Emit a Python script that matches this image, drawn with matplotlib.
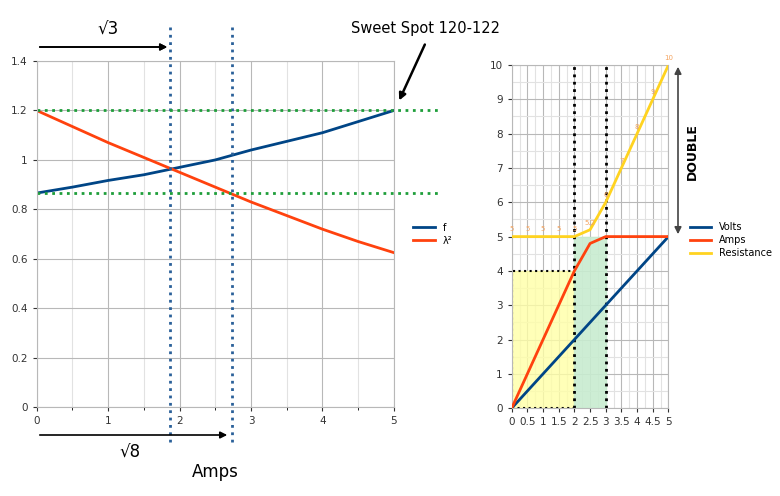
import numpy as np
import matplotlib.pyplot as plt

# left chart data
amps = [0, 0.5, 1, 1.5, 2, 2.5, 3, 3.5, 4, 4.5, 5]
f_vals = [0.866, 0.89, 0.917, 0.94, 0.97, 1.0, 1.04, 1.075, 1.11, 1.155, 1.2]
lam2_vals = [1.2, 1.135, 1.07, 1.01, 0.95, 0.89, 0.83, 0.775, 0.72, 0.67, 0.625]
v_marks = [1.87, 2.74]
h_marks = [1.2, 0.866]

# right chart data
x_r = [0, 0.5, 1, 1.5, 2, 2.5, 3, 3.5, 4, 4.5, 5]
volts = [0, 0.5, 1, 1.5, 2, 2.5, 3, 3.5, 4, 4.5, 5]
amps_r = [0, 1, 2, 3, 4, 4.8, 5, 5, 5, 5, 5]
resistance = [5, 5, 5, 5, 5, 5.2, 6, 7, 8, 9, 10]
res_labels = ['5', '5', '5', '5', '5', '5.2', '6', '7', '8', '9', '10']

fig = plt.figure(figsize=(7.8, 4.96), dpi=100)
grid_c = '#b8b8b8'
minor_c = '#e2e2e2'

ax = fig.add_axes([0.047, 0.179, 0.458, 0.698])
ax.plot(amps, f_vals, color='#004586', lw=2, label='f')
ax.plot(amps, lam2_vals, color='#ff420e', lw=2, label='λ²')
for v in v_marks:
    ax.axvline(v, ymin=-0.1, ymax=1.1, color='#2a6099', ls=':', lw=2, clip_on=False)
for h in h_marks:
    ax.plot([0, 5.65], [h, h], color='#1e9e3a', ls=':', lw=2, clip_on=False)
ax.set_xlim(0, 5)
ax.set_ylim(0, 1.4)
ax.set_xticks(range(6))
ax.set_xticks(np.arange(0.5, 5, 1), minor=True)
ax.set_yticks(np.arange(0, 1.41, 0.2))
ax.set_yticklabels(['0', '0.2', '0.4', '0.6', '0.8', '1', '1.2', '1.4'])
ax.grid(True, which='major', color=grid_c, lw=0.8)
ax.grid(True, which='minor', axis='x', color=minor_c, lw=0.8)
ax.tick_params(labelsize=7.5, length=3, colors='#333333')
for s in ax.spines.values():
    s.set_color(grid_c)
ax.set_axisbelow(True)
ax.legend(loc='center left', bbox_to_anchor=(1.03, 0.5), frameon=False, fontsize=7,
          handlelength=2.2, labelspacing=0.3)

# right chart
ax2 = fig.add_axes([0.656, 0.177, 0.201, 0.692])
ax2.fill_between([0, 2], 0, 4, color='#ffffa6', alpha=0.8, zorder=1)
ax2.fill_between([2, 3], 0, 5, color='#c8ecd0', alpha=0.9, zorder=1)
ax2.plot([0, 0, 2], [0, 4, 4], color='black', ls=':', lw=1.5, zorder=2)
ax2.plot([0, 2], [0, 0], color='black', ls=':', lw=1.5, zorder=2)
for v in [2, 3]:
    ax2.axvline(v, color='black', ls=':', lw=2, zorder=2)
ax2.plot(x_r, volts, color='#004586', lw=2, label='Volts', zorder=3)
ax2.plot(x_r, amps_r, color='#ff420e', lw=2, label='Amps', zorder=3)
ax2.plot(x_r, resistance, color='#ffd320', lw=2, label='Resistance', zorder=3)
for xx, yy, t in zip(x_r, resistance, res_labels):
    ax2.text(xx, yy + 0.12, t, color='#f4a460', fontsize=5, ha='center', va='bottom')
ax2.set_xlim(0, 5)
ax2.set_ylim(0, 10)
ax2.set_xticks(np.arange(0, 5.01, 0.5))
ax2.set_xticklabels(['0', '0.5', '1', '1.5', '2', '2.5', '3', '3.5', '4', '4.5', '5'])
ax2.set_xticks(np.arange(0.25, 5, 0.5), minor=True)
ax2.set_yticks(range(11))
ax2.set_yticks(np.arange(0.5, 10, 1), minor=True)
ax2.grid(True, which='major', color=grid_c, lw=0.8)
ax2.grid(True, which='minor', color=minor_c, lw=0.8)
ax2.tick_params(labelsize=7.5, length=3, colors='#333333')
ax2.tick_params(which='minor', length=0)
for s in ax2.spines.values():
    s.set_color(grid_c)
ax2.set_axisbelow(True)
ax2.legend(loc='center left', bbox_to_anchor=(1.08, 0.49), frameon=False, fontsize=7,
           handlelength=2.2, labelspacing=0.3)

# annotations in pixel-based figure fractions
def fp(x, y):
    return (x / 780, 1 - y / 496)

arr = dict(arrowstyle='-|>', color='black', lw=1.2)
fig.add_artist(plt.annotate('', xy=fp(170, 47), xytext=fp(37, 47), xycoords='figure fraction',
                            arrowprops=arr))
fig.text(*fp(108, 30), '√3', fontsize=12, ha='center', va='center')
plt.annotate('', xy=fp(230, 435), xytext=fp(37, 435), xycoords='figure fraction', arrowprops=arr)
fig.text(*fp(130, 453), '√8', fontsize=12, ha='center', va='center')
fig.text(*fp(215, 472), 'Amps', fontsize=12, ha='center', va='center')
fig.text(*fp(426, 28), 'Sweet Spot 120-122', fontsize=10.5, ha='center', va='center')
plt.annotate('', xy=fp(398, 103), xytext=fp(426, 42), xycoords='figure fraction',
             arrowprops=dict(arrowstyle='-|>', color='black', lw=1.8))
plt.annotate('', xy=fp(678, 64), xytext=fp(678, 237), xycoords='figure fraction',
             arrowprops=dict(arrowstyle='<|-|>', color='#444444', lw=1.2))
fig.text(*fp(692, 152), 'DOUBLE', fontsize=9, fontweight='bold', rotation=90,
         ha='center', va='center')

fig.savefig('out.png', dpi=100)
